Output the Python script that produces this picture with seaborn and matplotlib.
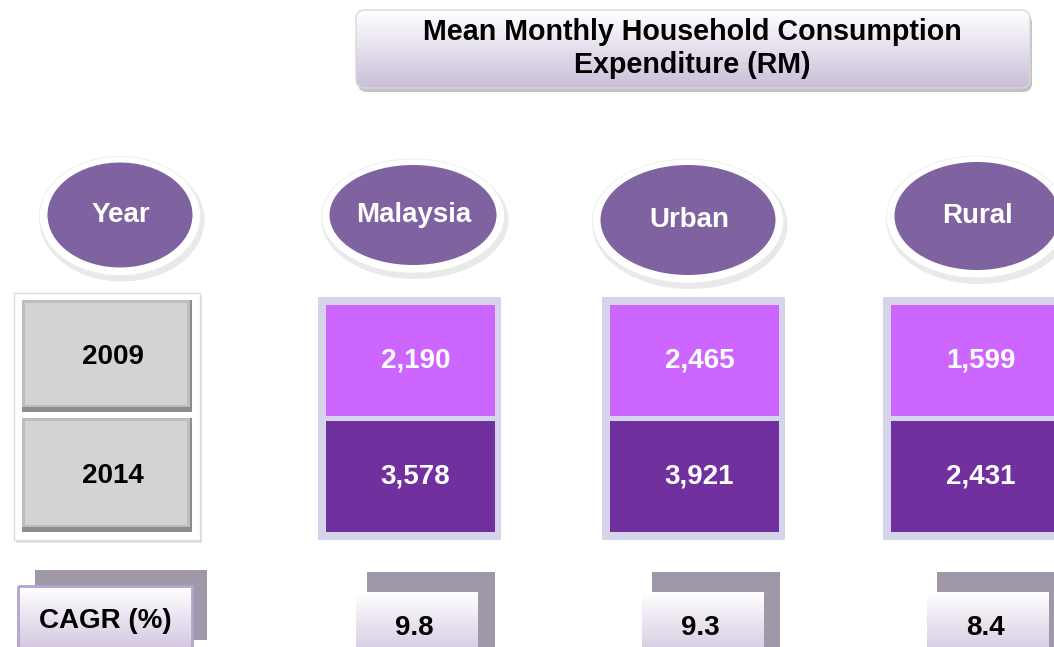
import numpy as np
import matplotlib
matplotlib.use("Agg")
import matplotlib.pyplot as plt
from matplotlib.patches import Ellipse, Rectangle, FancyBboxPatch
from matplotlib.colors import ListedColormap, to_rgb
import seaborn as sns

# ---------------- data ----------------
title_lines = ["Mean Monthly Household Consumption", "Expenditure (RM)"]
years = ["2009", "2014"]
regions = ["Malaysia", "Urban", "Rural"]
malaysia = [2190, 3578]
urban = [2465, 3921]
rural = [1599, 2431]
cagr = [9.8, 9.3, 8.4]
cagr_label = "CAGR (%)"
year_header = "Year"

sns.set_theme(style="white")
plt.rcParams["font.family"] = ["Liberation Sans", "DejaVu Sans"]

W, H = 1054, 647
fig = plt.figure(figsize=(W / 100, H / 100), dpi=100)
fig.patch.set_facecolor("white")
ax = fig.add_axes([0, 0, 1, 1])
ax.set_xlim(0, W)
ax.set_ylim(H, 0)
ax.axis("off")

PURPLE_HDR = "#7f62a0"
LIGHT = "#cc66ff"
DARK = "#70309e"
FRAME = "#d4d4ea"
SHADOW = "#a097a8"
FS = 20


def gradient(patch, x0, x1, y0, y1, top, bottom, z):
    ax.add_patch(patch)
    t = np.array(to_rgb(top))
    b = np.array(to_rgb(bottom))
    n = 64
    arr = np.linspace(0, 1, n)[:, None, None] * (b - t) + t
    arr = np.repeat(arr, 2, axis=1)
    im = ax.imshow(arr, extent=(x0, x1, y1, y0), origin="upper",
                   aspect="auto", zorder=z, interpolation="bilinear")
    im.set_clip_path(patch)


# ---------------- title box ----------------
ax.add_patch(FancyBboxPatch((358, 14), 674, 78, boxstyle="round,pad=0,rounding_size=9",
                            fc="#9a9a9a", ec="none", alpha=0.6, zorder=1))
tb = FancyBboxPatch((356, 10), 674, 78, boxstyle="round,pad=0,rounding_size=9",
                    fc="none", ec="#d8d8d8", lw=1, zorder=3)
gradient(tb, 356, 1030, 10, 88, "#ffffff", "#cbbfd9", 2)
ax.text(692, 32, title_lines[0], ha="center", va="center", fontsize=20.6,
        fontweight="bold", color="black", zorder=4)
ax.text(692, 65, title_lines[1], ha="center", va="center", fontsize=20.6,
        fontweight="bold", color="black", zorder=4)

# ---------------- header ellipses ----------------
headers = [year_header] + regions
hdr_pos = [(120, 215, 145, 105), (413, 215, 167, 100), (688, 220, 175, 110), (977, 216, 165, 108)]
for label, (cx, cy, w, h) in zip(headers, hdr_pos):
    ax.add_patch(Ellipse((cx + 2, cy + 5), w + 20, h + 18, fc="#b8b8b8", ec="none", alpha=0.3, zorder=1))
    ax.add_patch(Ellipse((cx, cy + 1), w + 16, h + 14, fc="white", ec="#ececec", lw=0.6, zorder=2))
    ax.add_patch(Ellipse((cx, cy), w, h, fc=PURPLE_HDR, ec="none", zorder=3))
    ax.text(cx + 1, cy, label, ha="center", va="center", fontsize=FS,
            fontweight="bold", color="white", zorder=4)

# ---------------- year buttons ----------------
ax.add_patch(Rectangle((16, 296), 186, 247, fc="#e2e2e2", ec="none", zorder=0.5))
ax.add_patch(Rectangle((14, 293), 186, 247, fc="white", ec="#dcdcdc", lw=1.0, zorder=1))
btn_rows = [(300, 412), (418, 532)]
for yr, (y0, y1) in zip(years, btn_rows):
    ax.add_patch(Rectangle((22, y0), 170, y1 - y0, fc="#8c8c8c", ec="none", zorder=2))
    ax.add_patch(Rectangle((22, y0), 168, y1 - y0 - 5, fc="#bdbdbd", ec="none", zorder=2))
    ax.add_patch(Rectangle((25, y0 + 3), 162, y1 - y0 - 10, fc="#d3d3d3", ec="none", zorder=3))
    ax.text(113, (y0 + y1) / 2 + 1, yr, ha="center", va="center", fontsize=FS,
            fontweight="bold", color="black", zorder=4)

# ---------------- value cells (seaborn heatmaps) ----------------
cell_x = [323, 607, 888]
cell_w = 174
cy0, cy1 = 302, 534
cmap = ListedColormap([LIGHT, DARK])
for vals, x0 in zip([malaysia, urban, rural], cell_x):
    ax.add_patch(Rectangle((x0 - 5, cy0 - 5), cell_w + 9, cy1 - cy0 + 11,
                           fc=FRAME, ec="none", zorder=1))
    hax = fig.add_axes([x0 / W, 1 - cy1 / H, cell_w / W, (cy1 - cy0) / H])
    color_idx = np.array([[0], [1]])
    annot = np.array(vals).reshape(2, 1)
    sns.heatmap(color_idx, ax=hax, cmap=cmap, vmin=0, vmax=1, cbar=False,
                annot=annot, fmt=",.0f", linewidths=3.6, linecolor=FRAME,
                xticklabels=False, yticklabels=False,
                annot_kws={"fontsize": FS, "fontweight": "bold", "color": "white"})
    for t in hax.texts:
        t.set_x(t.get_position()[0] + 5.5 / cell_w)
    hax.axis("off")

# ---------------- CAGR row ----------------
ax.add_patch(Rectangle((35, 570), 172, 70, fc=SHADOW, ec="none", zorder=1))
cb = Rectangle((18, 586), 174, 70, fc="none", ec="#b5a3cf", lw=2, zorder=3)
gradient(cb, 18, 192, 586, 656, "#ffffff", "#cfc2dd", 2)
ax.text(105, 621, cagr_label, ha="center", va="center", fontsize=FS,
        fontweight="bold", color="black", zorder=4)

box_pos = [(356, 367), (642, 652), (927, 937)]
text_x = [414, 700, 985]
for val, (bx, sx), tx in zip(cagr, box_pos, text_x):
    ax.add_patch(Rectangle((sx, 572), 128, 80, fc=SHADOW, ec="none", zorder=1))
    vb = Rectangle((bx, 592), 122, 60, fc="none", ec="none", zorder=3)
    gradient(vb, bx, bx + 122, 592, 652, "#ffffff", "#d6cbe2", 2)
    ax.text(tx, 628, f"{val:.1f}", ha="center", va="center", fontsize=FS,
            fontweight="bold", color="black", zorder=4)

ax.set_xlim(0, W)
ax.set_ylim(H, 0)
fig.savefig("out.png", dpi=100)
